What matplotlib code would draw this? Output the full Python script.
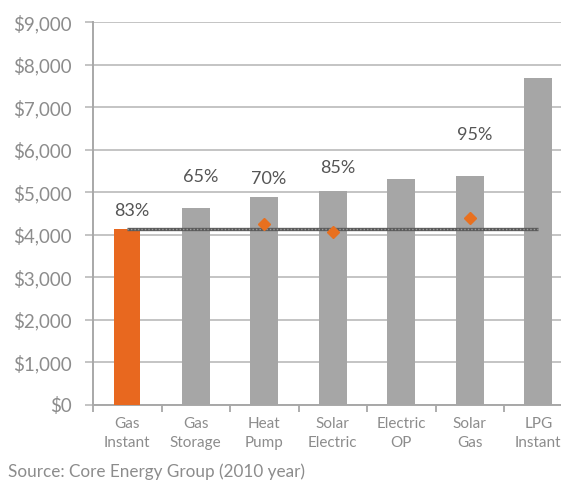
import matplotlib
matplotlib.use("Agg")
import matplotlib.pyplot as plt
import numpy as np

categories = ["Gas\nInstant", "Gas\nStorage", "Heat\nPump", "Solar\nElectric",
              "Electric\nOP", "Solar\nGas", "LPG\nInstant"]
costs = [4130, 4630, 4880, 5040, 5320, 5380, 7700]
bar_colors = ["#E8681F"] + ["#A6A6A6"] * 6

# benchmark line (Gas Instant cost) drawn from first to last category
benchmark = 4150

# orange diamond markers (category index, value)
marker_idx = [2, 3, 5]
marker_vals = [4260, 4080, 4390]

# percentage labels (category index, label, label height in $)
pct_idx = [0, 1, 2, 3, 5]
pct_labels = ["83%", "65%", "70%", "85%", "95%"]
pct_heights = [4560, 5360, 5320, 5580, 6350]

yticks = list(range(0, 9001, 1000))
ytick_labels = ["$" + format(v, ",") for v in yticks]

source = "Source: Core Energy Group (2010 year)"

plt.rcParams['font.family'] = ['Lato', 'DejaVu Sans']

fig = plt.figure(figsize=(5.61, 4.83), dpi=100)
ax = fig.add_axes([93/561, 1 - 405/483, 479.5/561, (405 - 22.3)/483])

x = np.arange(len(categories))
widths = [0.38] + [0.41] * 6
ax.bar(x, costs, width=widths, color=bar_colors, zorder=3)

ax.plot([x[0], x[-1]], [benchmark, benchmark], color="#5a5a5a", lw=2.4,
        zorder=4, solid_capstyle="butt")
ax.plot([x[0], x[-1]], [benchmark, benchmark], color="#9a9a9a", lw=1.0,
        ls=(0, (1, 1.5)), zorder=5)

ax.plot([x[i] for i in marker_idx], marker_vals, linestyle="none", marker="D",
        markersize=6.5, color="#E8701F", zorder=6)

for i, lab, h in zip(pct_idx, pct_labels, pct_heights):
    ax.text(x[i] + 0.07, h, lab, ha="center", va="center", fontsize=13,
            color="#555555", zorder=7)

ax.set_xlim(-0.5, len(categories) - 0.5)
ax.set_ylim(0, 9000)
ax.set_yticks(yticks)
ax.set_yticklabels(ytick_labels, fontsize=13.5, color="#8c8c8c")
ax.yaxis.grid(True, color="#c4c4c4", lw=1.4, zorder=0)
ax.set_axisbelow(True)

ax.set_xticks(x)
ax.set_xticklabels(categories, fontsize=11, color="#8c8c8c", linespacing=1.45)
ax.set_xticks(np.arange(-0.5, len(categories) + 0.5, 1), minor=True)
ax.tick_params(axis="x", which="major", length=0, pad=9)
ax.tick_params(axis="x", which="minor", length=5, width=1.2, color="#a0a0a0")
ax.tick_params(axis="y", length=6, width=1.4, color="#c4c4c4", pad=9)

for s in ["top", "right"]:
    ax.spines[s].set_visible(False)
ax.spines["left"].set_color("#a8a8a8")
ax.spines["left"].set_linewidth(1.4)
ax.spines["bottom"].set_color("#a8a8a8")
ax.spines["bottom"].set_linewidth(1.4)

fig.text(8/561, 1 - 472/483, source, fontsize=12.3, color="#8c8c8c",
         ha="left", va="center")

fig.savefig("out.png", dpi=100)
